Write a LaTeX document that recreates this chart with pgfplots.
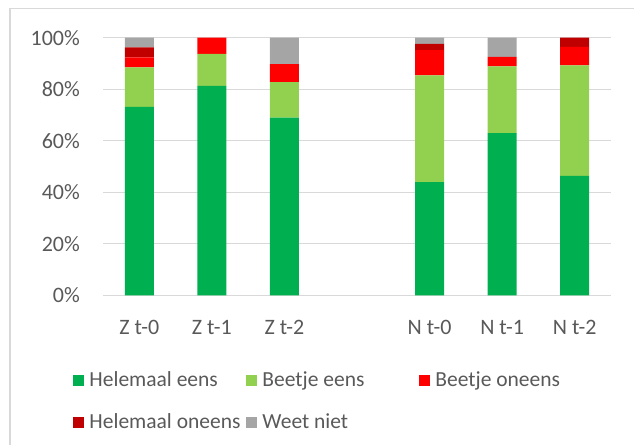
\documentclass[border=0pt]{standalone}
\usepackage{fontspec}
\setmainfont{Carlito}
\usepackage{pgfplots}
\pgfplotsset{compat=1.18}
\definecolor{cHE}{HTML}{00B050}
\definecolor{cBE}{HTML}{92D050}
\definecolor{cBO}{HTML}{FF0000}
\definecolor{cHO}{HTML}{C00000}
\definecolor{cWN}{HTML}{A5A5A5}
\definecolor{gridc}{HTML}{D9D9D9}
\definecolor{framec}{HTML}{D9D9D9}
\definecolor{labelc}{HTML}{595959}
\newcommand{\lbox}[1]{\makebox[156bp][l]{#1}}
\begin{document}
\fontsize{22bp}{26bp}\selectfont
\begin{tikzpicture}
\useasboundingbox (0,0) rectangle (634bp,445bp);
\draw[color=framec, line width=1.2bp] (10bp,436.3bp) rectangle (700bp,-50bp);
\begin{axis}[
  at={(103bp,149.7bp)}, anchor=south west,
  scale only axis, width=508bp, height=257.6bp,
  xmin=-0.5, xmax=6.5, ymin=0, ymax=100,
  ybar stacked, bar width=29bp,
  axis line style={draw=none},
  ytick={0,20,40,60,80,100},
  yticklabels={0\%,20\%,40\%,60\%,80\%,100\%},
  xtick={0,1,2,4,5,6},
  xticklabels={Z t-0,Z t-1,Z t-2,N t-0,N t-1,N t-2},
  major tick length=0pt,
  ymajorgrids, grid style={color=gridc, line width=1.3bp},
  tick label style={font=\fontsize{22bp}{26bp}\selectfont, text=labelc},
  yticklabel style={inner sep=0pt, xshift=-23bp},
  xticklabel style={inner sep=0pt, yshift=-25bp, anchor=north},
  legend columns=3,
  legend image code/.code={\fill[#1] (0bp,-5.5bp) rectangle (11bp,5.5bp);},
  legend cell align=left,
  legend style={draw=none, fill=none, at={(-0.0585,-0.29)}, anchor=north west,
    inner sep=0pt, row sep=21bp, font=\fontsize{21.5bp}{26bp}\selectfont, text=labelc,
    nodes={inner sep=0pt, text height=16bp, text depth=5bp},
    /tikz/every odd column/.append style={column sep=5bp},
    /tikz/every even column/.append style={column sep=1bp}},
]
\addplot[fill=cHE, draw=none] coordinates {(0,73.1) (1,81.25) (2,69.0) (4,43.9) (5,63.0) (6,46.4)};
\addplot[fill=cBE, draw=none] coordinates {(0,15.4) (1,12.5) (2,13.8) (4,41.5) (5,25.9) (6,42.9)};
\addplot[fill=cBO, draw=none] coordinates {(0,3.85) (1,6.25) (2,6.9) (4,9.75) (5,3.7) (6,7.1)};
\addplot[fill=cHO, draw=none] coordinates {(0,3.85) (1,0) (2,0) (4,2.45) (5,0) (6,3.6)};
\addplot[fill=cWN, draw=none] coordinates {(0,3.8) (1,0) (2,10.3) (4,2.4) (5,7.4) (6,0)};
\legend{\lbox{Helemaal eens}, \lbox{Beetje eens}, \lbox{Beetje oneens}, \lbox{Helemaal oneens}, \lbox{Weet niet}}
\end{axis}
\end{tikzpicture}
\end{document}
